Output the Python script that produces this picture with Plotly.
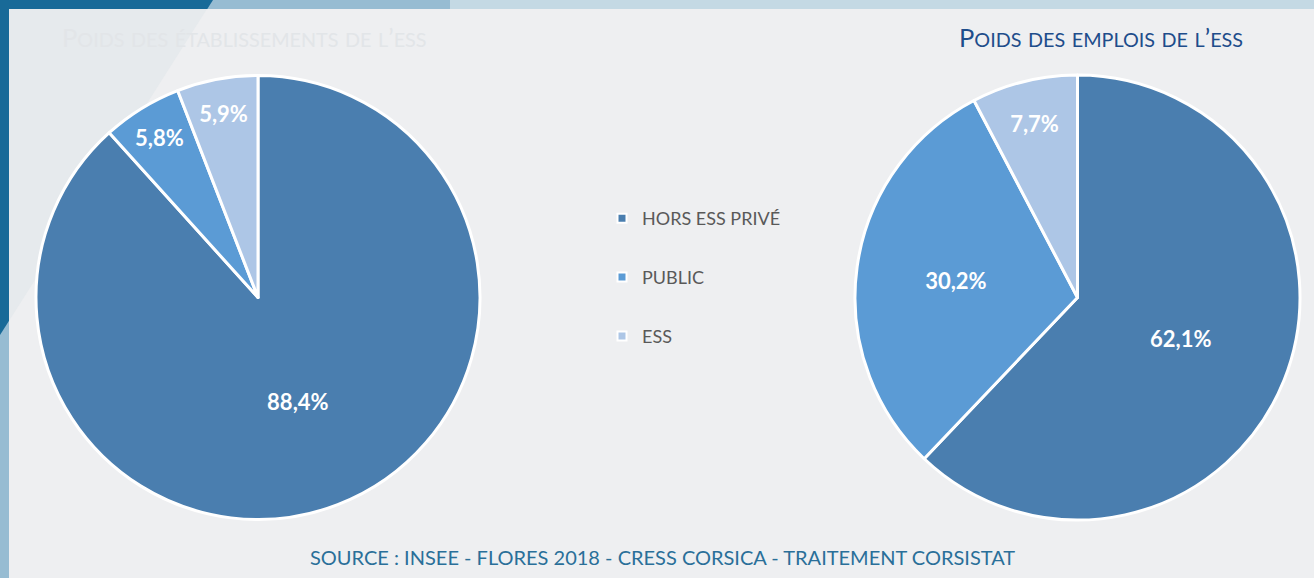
import plotly.graph_objects as go

W, H = 1314, 578

categories = ["HORS ESS PRIVÉ", "PUBLIC", "ESS"]
etab_values = [88.4, 5.8, 5.9]
emploi_values = [62.1, 30.2, 7.7]
colors = ["#4a7eaf", "#5b9bd5", "#adc6e6"]

title_left = "Poids des établissements de l’ess"
title_right = "Poids des emplois de l’ess"
source_text = "SOURCE : INSEE - FLORES 2018 - CRESS CORSICA - TRAITEMENT CORSISTAT"


def px(x):
    return x / W


def py(y):
    return 1 - y / H


def path(points):
    return "M " + " L ".join(f"{px(x)},{py(y)}" for x, y in points) + " Z"


def small_caps(s, small_size):
    out = []
    buf = ""
    for ch in s:
        if ch.islower():
            buf += ch.upper()
        else:
            if buf:
                out.append(f"<span style='font-size:{small_size}px'>{buf}</span>")
                buf = ""
            out.append(ch)
    if buf:
        out.append(f"<span style='font-size:{small_size}px'>{buf}</span>")
    return "".join(out)


fig = go.Figure()

label_font = dict(family="Lato", size=22, color="white", weight="bold")

for vals, dom in [
    (etab_values, dict(x=[px(36), px(480)], y=[py(520), py(75)])),
    (emploi_values, dict(x=[px(855), px(1300)], y=[py(520), py(75)])),
]:
    fig.add_trace(go.Pie(
        labels=categories,
        values=vals,
        sort=False,
        direction="clockwise",
        rotation=0,
        marker=dict(colors=colors, line=dict(color="white", width=3)),
        texttemplate="%{value:.1f}%",
        textposition="inside",
        insidetextorientation="horizontal",
        textfont=label_font,
        domain=dom,
        showlegend=False,
        hoverinfo="label+value",
    ))

# legend entries
for cat, col in zip(categories, colors):
    fig.add_trace(go.Scatter(
        x=[None], y=[None], mode="markers", name=cat, legendgroup=cat,
        marker=dict(symbol="square", size=9, color=col, line=dict(color="white", width=2)),
        showlegend=True,
    ))

shapes = [
    dict(type="rect", x0=0, x1=1, y0=0, y1=1, fillcolor="#c4d9e4"),
    dict(type="rect", x0=0, x1=px(450), y0=0, y1=1, fillcolor="#97bcd2"),
    dict(type="path", path=path([(0, 0), (213, 0), (0, 335)]), fillcolor="#186a98"),
    dict(type="rect", x0=px(9), x1=1, y0=0, y1=py(9), fillcolor="#eeeff1"),
    dict(type="path", path=path([(9, 9), (207, 9), (9, 321)]), fillcolor="#e6eaed"),
]
for s in shapes:
    s.update(xref="paper", yref="paper", layer="below", line=dict(width=0))

fig.update_layout(
    width=W, height=H,
    margin=dict(l=0, r=0, t=0, b=0),
    paper_bgcolor="#eeeff1",
    plot_bgcolor="rgba(0,0,0,0)",
    separators=", ",
    shapes=shapes,
    xaxis=dict(visible=False, domain=[px(560), px(760)]),
    yaxis=dict(visible=False),
    legend=dict(
        x=px(602), y=py(200), xanchor="left", yanchor="top",
        font=dict(family="Lato", size=18, color="#595959"),
        tracegroupgap=32.5, itemwidth=30, bgcolor="rgba(0,0,0,0)",
    ),
    annotations=[
        dict(text=small_caps(title_left, 19.8), x=px(244), y=py(37), xref="paper", yref="paper",
             xanchor="center", yanchor="middle", showarrow=False,
             font=dict(family="Lato", size=25.5, color="#e2e5e8")),
        dict(text=small_caps(title_right, 19.8), x=px(1101), y=py(37), xref="paper", yref="paper",
             xanchor="center", yanchor="middle", showarrow=False,
             font=dict(family="Lato", size=25.5, color="#1e4d8b")),
        dict(text=source_text, x=px(662), y=py(557), xref="paper", yref="paper",
             xanchor="center", yanchor="middle", showarrow=False,
             font=dict(family="Lato", size=20, color="#2a6f99")),
    ],
)

fig.write_html("out.html")
